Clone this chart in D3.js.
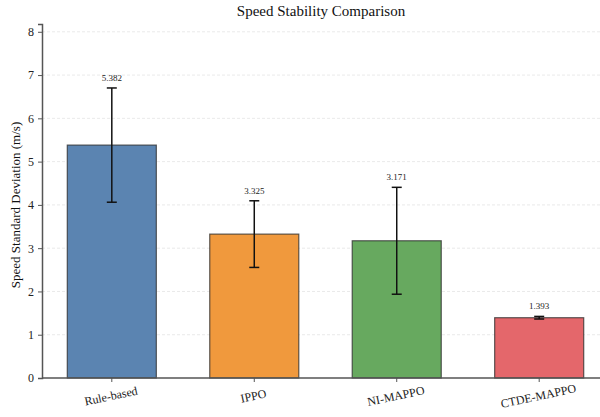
<!DOCTYPE html>
<html>
<head>
<meta charset="utf-8">
<script src="https://cdn.jsdelivr.net/npm/d3@7"></script>
<style>
  body { margin: 0; background: #fff; }
  svg { font-family: "Liberation Serif", "DejaVu Serif", serif; }
</style>
</head>
<body>
<svg id="chart" width="600" height="417"></svg>
<script>
const methods = ["Rule-based", "IPPO", "NI-MAPPO", "CTDE-MAPPO"];
const meanStd = [5.382, 3.325, 3.171, 1.393];
const errStd = [1.32, 0.77, 1.235, 0.03];
const barColors = ["#5b84b1", "#f0993d", "#67a95f", "#e4676b"];
const yTicks = [0, 1, 2, 3, 4, 5, 6, 7, 8];

const svg = d3.select("#chart");
const plotLeft = 42, plotBottom = 378, plotTop = 24;

const x = d3.scaleLinear().domain([-0.49, 3.49]).range([plotLeft, 609]);
const y = d3.scaleLinear().domain([0, 8.18]).range([plotBottom, plotTop]);
const barW = x(0.625) - x(0);

// grid
svg.append("g").selectAll("line")
    .data(yTicks.filter(d => d > 0))
    .enter().append("line")
    .attr("x1", plotLeft).attr("x2", 600)
    .attr("y1", d => y(d)).attr("y2", d => y(d))
    .attr("stroke", "#e3e3e3")
    .attr("stroke-width", 0.8)
    .attr("stroke-dasharray", "3,2");

// bars
svg.append("g").selectAll("rect")
    .data(methods)
    .enter().append("rect")
    .attr("x", (d, i) => x(i) - barW / 2)
    .attr("y", (d, i) => y(meanStd[i]))
    .attr("width", barW)
    .attr("height", (d, i) => plotBottom - y(meanStd[i]))
    .attr("fill", (d, i) => barColors[i])
    .attr("stroke", "#2b2b2b")
    .attr("stroke-opacity", 0.75)
    .attr("stroke-width", 1.2);

// error bars
const eb = svg.append("g").attr("stroke", "#111").attr("stroke-width", 1.5);
methods.forEach((m, i) => {
    const cx = x(i), hi = y(meanStd[i] + errStd[i]), lo = y(meanStd[i] - errStd[i]);
    eb.append("line").attr("x1", cx).attr("x2", cx).attr("y1", hi).attr("y2", lo);
    eb.append("line").attr("x1", cx - 5).attr("x2", cx + 5).attr("y1", hi).attr("y2", hi);
    eb.append("line").attr("x1", cx - 5).attr("x2", cx + 5).attr("y1", lo).attr("y2", lo);
});

// value labels
svg.append("g").selectAll("text")
    .data(methods)
    .enter().append("text")
    .attr("x", (d, i) => x(i))
    .attr("y", (d, i) => y(meanStd[i] + errStd[i]) - 7)
    .attr("text-anchor", "middle")
    .attr("font-size", 9)
    .attr("fill", "#222")
    .text((d, i) => meanStd[i].toFixed(3));

// axes
const yAxis = svg.append("g")
    .attr("transform", `translate(${plotLeft},0)`)
    .call(d3.axisLeft(y).tickValues(yTicks).tickSize(4).tickPadding(4).tickFormat(d3.format("d")));
yAxis.select(".domain").attr("stroke", "#555").attr("stroke-width", 1.5);
yAxis.selectAll(".tick line").attr("stroke", "#555");
yAxis.selectAll("text").attr("font-size", 12).attr("fill", "#222").attr("font-family", "Liberation Serif");

const xAxis = svg.append("g").attr("transform", `translate(0,${plotBottom})`);
xAxis.append("line").attr("x1", plotLeft).attr("x2", 600).attr("y1", 0).attr("y2", 0)
    .attr("stroke", "#555").attr("stroke-width", 1.5);
xAxis.selectAll(".tk").data(methods).enter().append("line")
    .attr("x1", (d, i) => x(i)).attr("x2", (d, i) => x(i))
    .attr("y1", 0).attr("y2", 4).attr("stroke", "#555");
xAxis.selectAll("text").data(methods).enter().append("text")
    .attr("transform", (d, i) => `translate(${x(i)},${22}) rotate(-12)`)
    .attr("text-anchor", "middle")
    .attr("font-size", 12)
    .attr("fill", "#222")
    .text(d => d);

// titles
svg.append("text")
    .attr("x", 321).attr("y", 16)
    .attr("text-anchor", "middle")
    .attr("font-size", 15)
    .attr("fill", "#111")
    .text("Speed Stability Comparison");

svg.append("text")
    .attr("transform", `translate(20,${(plotTop + plotBottom) / 2 + 4}) rotate(-90)`)
    .attr("text-anchor", "middle")
    .attr("font-size", 13)
    .attr("fill", "#111")
    .text("Speed Standard Deviation (m/s)");
</script>
</body>
</html>
